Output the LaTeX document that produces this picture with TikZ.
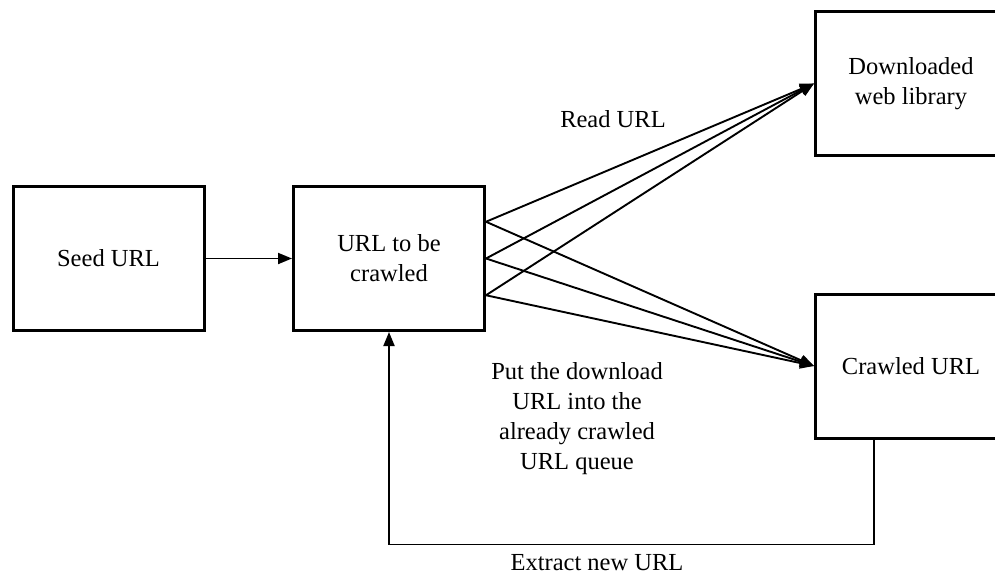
\documentclass[tikz,border=0pt]{standalone}
\usepackage{fontspec}
\setmainfont{Liberation Serif}
\usetikzlibrary{arrows.meta,calc}

\begin{document}
\begin{tikzpicture}[x=1pt,y=-1pt,
  box/.style={draw,line width=3pt,minimum width=191pt,minimum height=144pt,
              align=center,inner sep=0pt,font=\fontsize{24.5}{30}\selectfont},
  lbl/.style={align=center,inner sep=0pt,font=\fontsize{24.5}{30}\selectfont},
  arr/.style={line width=1.9pt,-{Triangle[length=14pt,width=11pt]}}]
\useasboundingbox (0,0) rectangle (995,576);
\clip (0,0) rectangle (995,576);

% process boxes
\node[box] (s) at (108.5,258.5) {Seed URL};
\node[box] (u) at (389,258.5) {URL to be\\crawled};
\node[box] (d) at (911,83.5) {Downloaded\\web library};
\node[box] (c) at (911,366) {Crawled URL};

% connection points on the right side of the queue box
\coordinate (u1) at ($(u.north east)!0.25!(u.south east)$);
\coordinate (u2) at (u.east);
\coordinate (u3) at ($(u.north east)!0.75!(u.south east)$);

% seed goes into the queue
\draw[arr] (s) -- (u);

% read and record each queued URL
\foreach \p in {u1,u2,u3} {
  \draw[arr] (\p) -- (d.west);
  \draw[arr] (\p) -- (c.west);
}

% feedback loop with newly extracted URLs
\draw[arr] ([xshift=-37pt]c.south) -- ++(0,105) -| (u.south);

% labels
\node[lbl] (readlbl) at (613,119) {Read URL};
\node[lbl] (putlbl) at (577,419) {Put the download\\URL into the\\already crawled\\URL queue};
\node[lbl] (extlbl) at (597,563) {Extract new URL};
\end{tikzpicture}
\end{document}
